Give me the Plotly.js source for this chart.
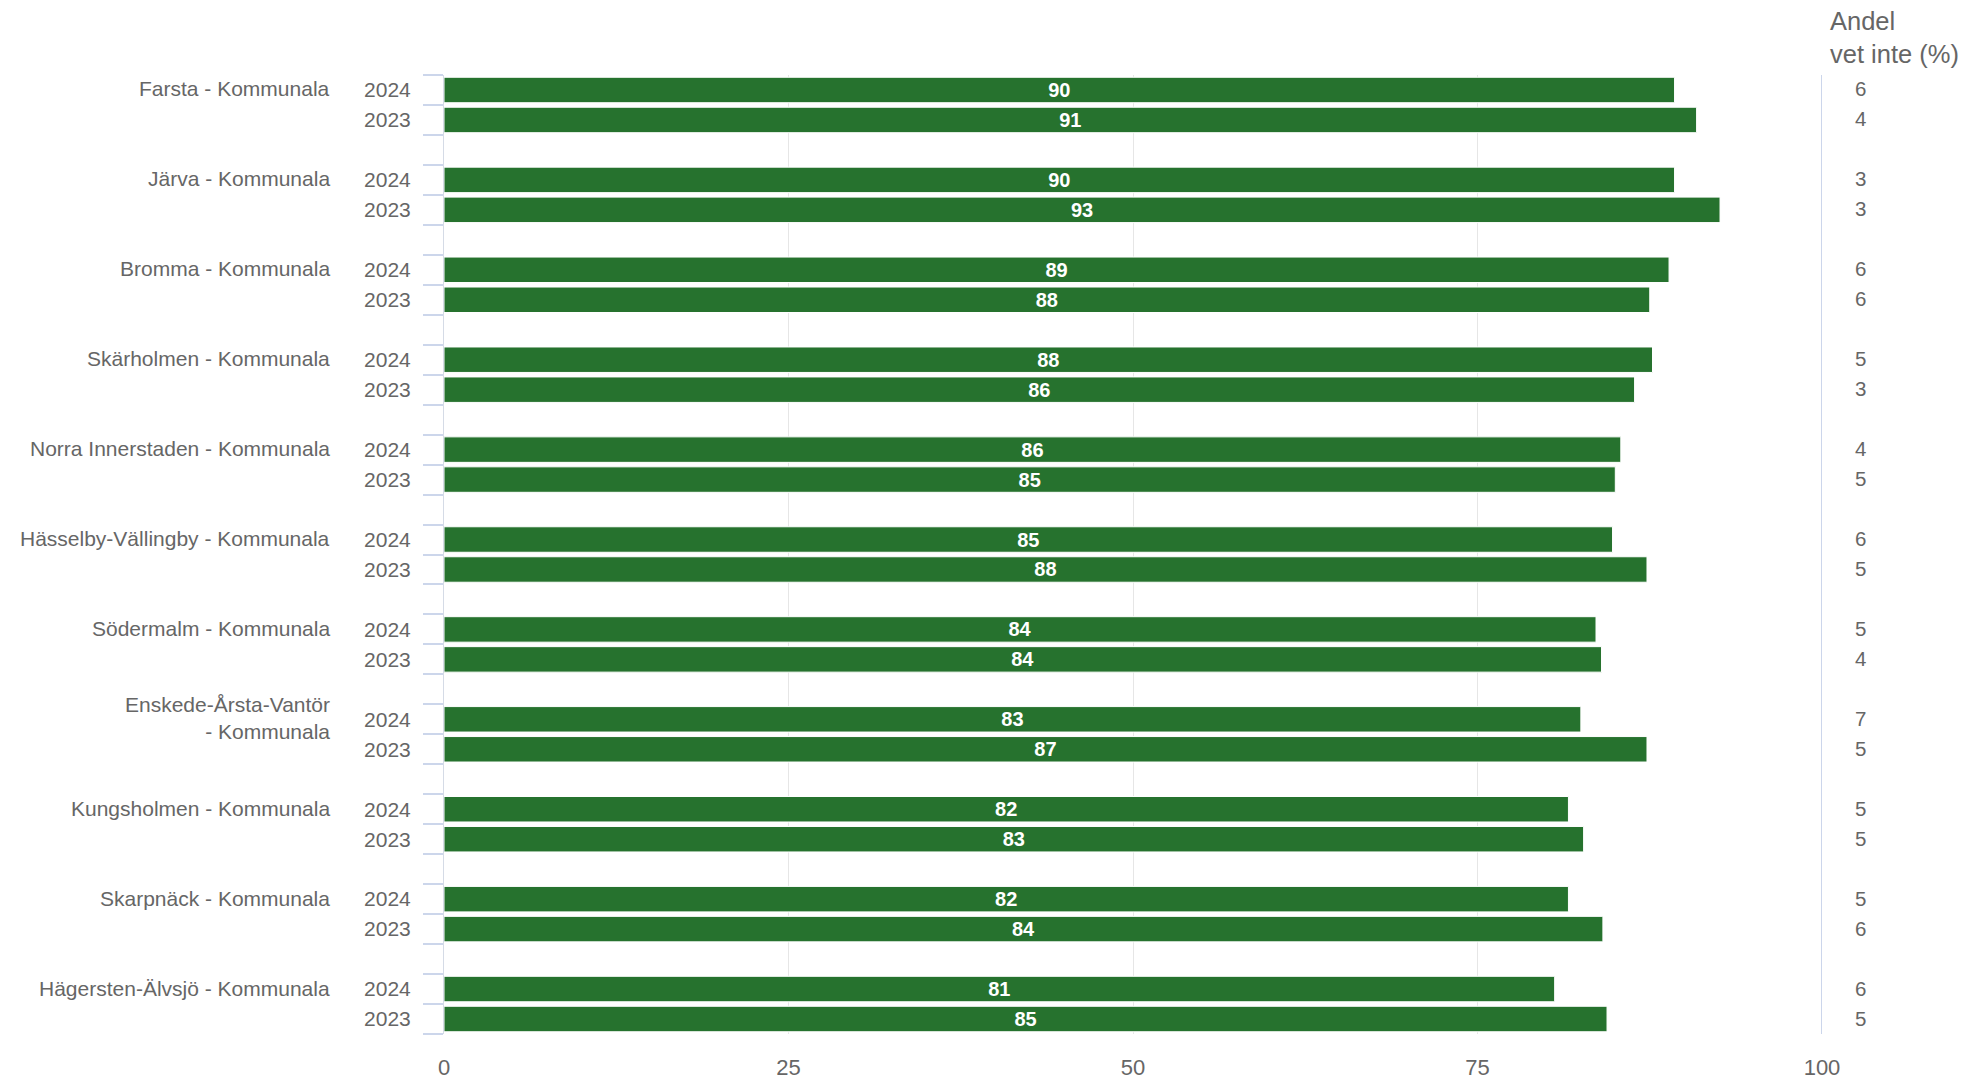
<!DOCTYPE html>
<html>
<head>
<meta charset="utf-8">
<script src="https://cdn.plot.ly/plotly-3.0.1.min.js"></script>
<style>
  html, body { margin: 0; padding: 0; background: #ffffff; }
  #chart { width: 1972px; height: 1080px; }
</style>
</head>
<body>
<div id="chart"></div>
<script>
// ---- Data ----
const categories = [
  "Farsta - Kommunala",
  "Järva - Kommunala",
  "Bromma - Kommunala",
  "Skärholmen - Kommunala",
  "Norra Innerstaden - Kommunala",
  "Hässelby-Vällingby - Kommunala",
  "Södermalm - Kommunala",
  "Enskede-Årsta-Vantör - Kommunala",
  "Kungsholmen - Kommunala",
  "Skarpnäck - Kommunala",
  "Hägersten-Älvsjö - Kommunala"
];
const years = ["2024", "2023"];
// bar lengths
const values2024 = [89.3, 89.3, 88.9, 87.7, 85.4, 84.8, 83.6, 82.5, 81.6, 81.6, 80.6];
const values2023 = [90.9, 92.6, 87.5, 86.4, 85.0, 87.3, 84.0, 87.3, 82.7, 84.1, 84.4];
// printed data labels
const labels2024 = [90, 90, 89, 88, 86, 85, 84, 83, 82, 82, 81];
const labels2023 = [91, 93, 88, 86, 85, 88, 84, 87, 83, 84, 85];
// "Andel vet inte (%)"
const vetInte2024 = [6, 3, 6, 5, 4, 6, 5, 7, 5, 5, 6];
const vetInte2023 = [4, 3, 6, 3, 5, 5, 4, 5, 5, 6, 5];
const xTicks = [0, 25, 50, 75, 100];
const rightTitle = ["Andel", "vet inte (%)"];

// ---- Styling ----
const FONT = "Liberation Sans, Arial, Helvetica, sans-serif";
const GREY = "#666666";
const BAR = "#26722e";
const ROWS_PER_GROUP = 3;

const nGroups = categories.length;
const rowOf = (g, k) => g * ROWS_PER_GROUP + k;
const lastRow = rowOf(nGroups - 1, 1);

const series = [values2024, values2023];
const seriesLabels = [labels2024, labels2023];
const traces = series.map((vals, k) => ({
  type: "bar",
  orientation: "h",
  x: vals,
  y: vals.map((_, g) => rowOf(g, k)),
  width: 0.85,
  marker: { color: BAR, line: { color: "#ffffff", width: 1 } },
  text: seriesLabels[k].map(String),
  texttemplate: "%{text}",
  textposition: "inside",
  insidetextanchor: "middle",
  textangle: 0,
  constraintext: "none",
  textfont: { family: FONT, size: 20, color: "#ffffff", weight: "bold" },
  hoverinfo: "skip",
  showlegend: false
}));

// y ticks: year labels at bar rows, boundary ticks at every row edge
const tickvals = [], ticktext = [];
for (let g = 0; g < nGroups; g++) {
  years.forEach((yr, k) => { tickvals.push(rowOf(g, k)); ticktext.push(yr); });
}
const boundaries = [];
for (let r = -0.5; r <= lastRow + 0.5; r += 1) boundaries.push(r);

const wrap = s => s.length > 31 ? s.replace(" - ", "<br>- ") : s;

const annotations = [];
categories.forEach((c, g) => {
  annotations.push({
    xref: "paper", yref: "y", x: 0, y: rowOf(g, 0),
    xanchor: "right", yanchor: "middle", xshift: -112, yshift: 1,
    text: wrap(c), align: "right", showarrow: false,
    font: { family: FONT, size: 21, color: GREY }
  });
});
[vetInte2024, vetInte2023].forEach((arr, k) => {
  arr.forEach((v, g) => {
    annotations.push({
      xref: "paper", yref: "y", x: 1, y: rowOf(g, k),
      xanchor: "center", yanchor: "middle", xshift: 38, yshift: 1,
      text: String(v), showarrow: false,
      font: { family: FONT, size: 20.5, color: GREY }
    });
  });
});
rightTitle.forEach((t, i) => {
  annotations.push({
    xref: "paper", yref: "paper", x: 1, y: 1,
    xanchor: "left", yanchor: "middle", xshift: 6, yshift: 54.5 - i * 33,
    text: t, showarrow: false,
    font: { family: FONT, size: 25.5, color: GREY }
  });
});

const layout = {
  width: 1972, height: 1080,
  margin: { l: 444, r: 150, t: 74.5, b: 45.5 },
  paper_bgcolor: "#ffffff", plot_bgcolor: "#ffffff",
  barmode: "overlay",
  font: { family: FONT, color: GREY },
  xaxis: {
    range: [0, 100], tickmode: "array", tickvals: xTicks,
    showgrid: true, gridcolor: "#e6e6e6", gridwidth: 1,
    zeroline: false, showline: false, ticks: "",
    ticklabelstandoff: 18,
    tickfont: { family: FONT, size: 22, color: GREY },
    fixedrange: true
  },
  yaxis: {
    range: [lastRow + 0.5, -0.5],
    tickmode: "array", tickvals: tickvals, ticktext: ticktext,
    ticks: "", showgrid: false, zeroline: false,
    showline: true, linecolor: "#d5dbe6", linewidth: 1,
    ticklabelstandoff: 28,
    tickfont: { family: FONT, size: 21, color: GREY },
    minor: { tickmode: "array", tickvals: boundaries, ticks: "outside",
             ticklen: 20, tickwidth: 2, tickcolor: "#ccd6eb", showgrid: false },
    fixedrange: true
  },
  shapes: [{
    type: "line", xref: "x", yref: "paper", x0: 100, x1: 100, y0: 0, y1: 1,
    line: { color: "#ccd6eb", width: 2 }
  }],
  annotations: annotations
};

Plotly.newPlot("chart", traces, layout, { displayModeBar: false, staticPlot: true });
</script>
</body>
</html>
